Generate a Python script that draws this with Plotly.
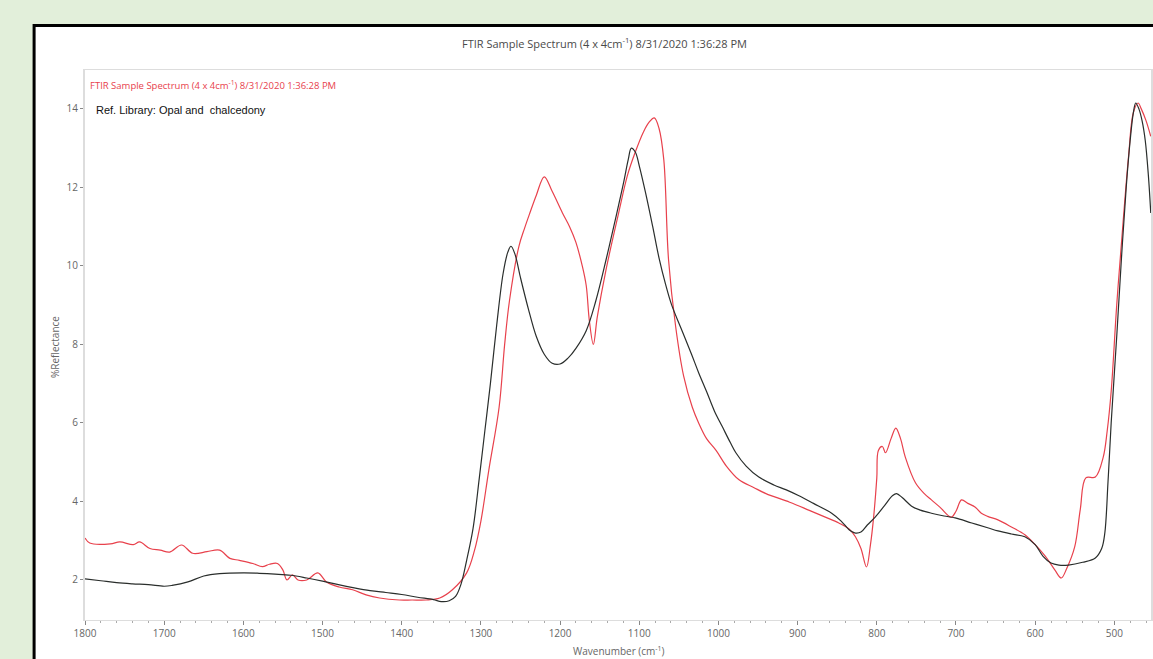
import plotly.graph_objects as go

# Reference library spectrum (black)
ref_wn = [1800, 1780, 1760, 1740, 1720, 1700, 1690, 1670, 1650, 1630, 1600, 1580, 1560, 1540, 1520,
          1500, 1480, 1460, 1440, 1420, 1400, 1380, 1360, 1350, 1340, 1332, 1325, 1318, 1310, 1302,
          1295, 1288, 1280, 1272, 1266, 1262, 1257, 1250, 1240, 1230, 1220, 1210, 1200, 1190, 1180,
          1167, 1155, 1142, 1130, 1120, 1114, 1110, 1105, 1100, 1092, 1083, 1075, 1067, 1059, 1047,
          1034, 1025, 1015, 1005, 995, 985, 978, 965, 949, 930, 915, 899, 880, 857, 845,
          835, 828, 820, 812, 802, 790, 780, 775, 768, 756, 745, 731, 715, 701, 680,
          660, 647, 630, 613, 600, 590, 580, 570, 558, 540, 524, 516, 512, 508, 504,
          497, 491, 485, 480, 476, 473, 469, 465, 461, 457, 454]
ref_val = [2.03, 1.98, 1.93, 1.90, 1.88, 1.84, 1.86, 1.95, 2.10, 2.16, 2.18, 2.17, 2.15, 2.12, 2.05,
           1.97, 1.88, 1.80, 1.73, 1.68, 1.63, 1.56, 1.50, 1.45, 1.47, 1.58, 1.90, 2.50, 3.30, 4.60,
           5.80, 7.00, 8.50, 9.80, 10.35, 10.50, 10.30, 9.70, 8.90, 8.20, 7.75, 7.52, 7.50, 7.65, 7.90,
           8.35, 9.10, 10.15, 11.20, 12.10, 12.70, 13.00, 12.90, 12.55, 11.86, 11.00, 10.20, 9.55, 9.00, 8.40,
           7.75, 7.28, 6.80, 6.30, 5.90, 5.50, 5.24, 4.90, 4.62, 4.42, 4.30, 4.15, 3.95, 3.70, 3.50,
           3.28, 3.20, 3.22, 3.40, 3.60, 3.90, 4.15, 4.20, 4.10, 3.88, 3.78, 3.70, 3.63, 3.58, 3.45,
           3.33, 3.25, 3.17, 3.10, 2.90, 2.60, 2.43, 2.38, 2.38, 2.45, 2.56, 2.80, 3.20, 4.50, 6.00,
           8.20, 10.20, 12.00, 13.20, 13.90, 14.15, 14.00, 13.70, 13.20, 12.30, 11.35]

# Sample spectrum (red)
smp_wn = [1800, 1794, 1768, 1756, 1739, 1731, 1718, 1705, 1693, 1678, 1664, 1646, 1630, 1617, 1605,
          1588, 1576, 1567, 1557, 1550, 1545, 1538, 1531, 1520, 1506, 1495, 1479, 1462, 1445, 1428,
          1403, 1387, 1369, 1352, 1336, 1318, 1308, 1300, 1290, 1277, 1270, 1264, 1252, 1245, 1239,
          1230, 1220, 1210, 1197, 1188, 1180, 1172, 1167, 1163, 1158, 1153, 1142, 1126, 1115, 1105,
          1095, 1088, 1081, 1075, 1069, 1063, 1054, 1044, 1033, 1025, 1015, 1003, 990, 974, 955,
          940, 910, 886, 865, 848, 835, 827, 820, 813, 808, 804, 800, 798, 793, 789,
          782, 776, 770, 764, 751, 740, 731, 720, 706, 700, 693, 685, 676, 668, 660,
          647, 630, 613, 600, 587, 575, 567, 560, 550, 543, 536, 524, 514, 509, 504,
          497, 489, 482, 476, 470, 466, 460, 454]
smp_val = [3.07, 2.94, 2.92, 2.97, 2.90, 2.97, 2.80, 2.76, 2.71, 2.89, 2.68, 2.72, 2.76, 2.55, 2.50,
           2.42, 2.34, 2.40, 2.42, 2.25, 2.00, 2.13, 2.00, 2.00, 2.18, 1.95, 1.82, 1.75, 1.62, 1.54,
           1.49, 1.49, 1.49, 1.54, 1.75, 2.18, 2.76, 3.50, 4.80, 6.40, 8.00, 9.10, 10.50, 10.95, 11.30,
           11.80, 12.27, 11.90, 11.35, 11.00, 10.60, 10.00, 9.50, 8.60, 8.00, 8.70, 9.90, 11.35, 12.30, 12.90,
           13.40, 13.65, 13.77, 13.50, 12.70, 10.15, 8.45, 7.20, 6.40, 6.00, 5.60, 5.30, 4.90, 4.55, 4.35,
           4.20, 3.98, 3.78, 3.60, 3.45, 3.30, 3.10, 2.80, 2.33, 2.90, 3.60, 4.60, 5.30, 5.40, 5.24,
           5.60, 5.87, 5.60, 5.13, 4.47, 4.20, 4.04, 3.85, 3.60, 3.75, 4.04, 3.95, 3.86, 3.70, 3.62,
           3.53, 3.35, 3.15, 2.90, 2.60, 2.25, 2.05, 2.30, 2.85, 3.80, 4.60, 4.62, 5.13, 5.80, 6.80,
           9.00, 11.10, 12.80, 13.90, 14.15, 14.00, 13.70, 13.30]

x_ticks = [1800, 1700, 1600, 1500, 1400, 1300, 1200, 1100, 1000, 900, 800, 700, 600, 500]
y_ticks = [2, 4, 6, 8, 10, 12, 14]

title_text = "FTIR Sample Spectrum (4 x 4cm<sup>-1</sup>) 8/31/2020 1:36:28 PM"
sample_name = "FTIR Sample Spectrum (4 x 4cm<sup>-1</sup>) 8/31/2020 1:36:28 PM"
ref_name = "Ref. Library: Opal and&nbsp; chalcedony"

fig = go.Figure()
fig.add_trace(go.Scatter(x=smp_wn, y=smp_val, mode="lines", name="sample",
                         line=dict(color="#e8414c", width=1.2), line_shape="spline"))
fig.add_trace(go.Scatter(x=ref_wn, y=ref_val, mode="lines", name="ref",
                         line=dict(color="#2a2e2c", width=1.2), line_shape="spline"))

W, H = 1153, 659
L, R, T, B = 85, 0, 70, 39
pw, ph = W - L - R, H - T - B


def px(xp):
    return (xp - L) / pw


def py(yp):
    return (H - B - yp) / ph


# white panel with black border
fig.add_shape(type="rect", xref="paper", yref="paper",
              x0=px(34), x1=px(1170), y0=py(700), y1=py(25.5),
              line=dict(color="black", width=3), fillcolor="white", layer="below")

fig.add_annotation(text=title_text, xref="paper", yref="paper", x=px(605), y=py(43),
                   showarrow=False, xanchor="center", yanchor="middle",
                   font=dict(family="Open Sans", size=11, color="#4a4a4a"))
fig.add_annotation(text=sample_name, xref="paper", yref="paper", x=px(88), y=py(85),
                   showarrow=False, xanchor="left", yanchor="middle",
                   font=dict(family="Open Sans", size=9.5, color="#e8414c"))
fig.add_annotation(text=ref_name, xref="paper", yref="paper", x=px(94), y=py(110),
                   showarrow=False, xanchor="left", yanchor="middle",
                   font=dict(family="Liberation Sans, Arial", size=11, color="#111111"))
fig.add_annotation(text="%Reflectance", xref="paper", yref="paper", x=px(55), y=py(347),
                   showarrow=False, textangle=-90, xanchor="center", yanchor="middle",
                   font=dict(family="Open Sans", size=10, color="#666666"))
fig.add_annotation(text="Wavenumber (cm<sup>-1</sup>)", xref="paper", yref="paper", x=px(620), y=py(651),
                   showarrow=False, xanchor="center", yanchor="middle",
                   font=dict(family="Open Sans", size=10, color="#666666"))

fig.update_layout(
    width=W, height=H,
    margin=dict(l=L, r=R, t=T, b=B, pad=0),
    paper_bgcolor="#e2efda",
    plot_bgcolor="white",
    showlegend=False,
    xaxis=dict(range=[1800, 453.7], tickvals=x_ticks, ticks="outside", ticklen=4,
               tickcolor="#888888", showgrid=False, zeroline=False,
               showline=True, linecolor="#dddddd", linewidth=1, mirror=True,
               tickfont=dict(family="Open Sans", size=10, color="#666666"),
               minor=dict(dtick=20, ticks="outside", ticklen=2, tickcolor="#aaaaaa")),
    yaxis=dict(range=[0.98, 14.99], tickvals=y_ticks, ticks="outside", ticklen=3,
               tickcolor="#888888", showgrid=False, zeroline=False,
               showline=True, linecolor="#dddddd", linewidth=2, mirror=True,
               tickfont=dict(family="Open Sans", size=10, color="#666666")),
)

fig.write_html("out.html", config={"displayModeBar": False},
               post_script="document.body.style.margin='0';document.body.style.overflow='hidden';")
